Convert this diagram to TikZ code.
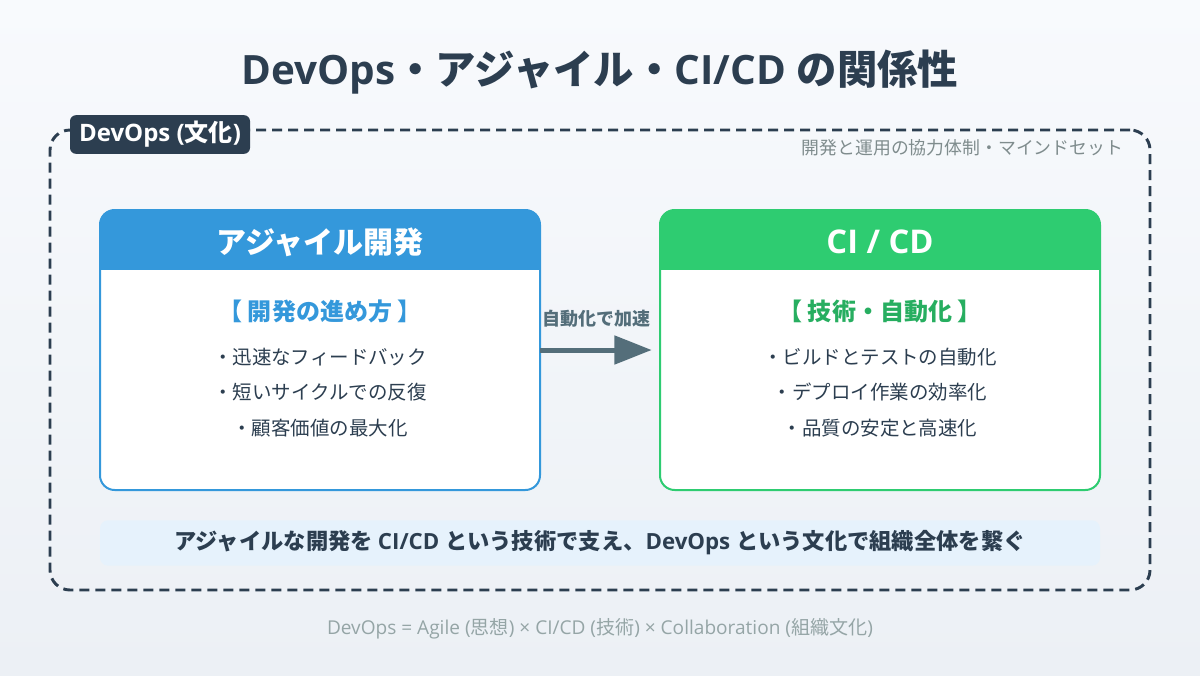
\documentclass[tikz,border=0pt]{standalone}
\usepackage{fontspec}
\setmainfont{Open Sans}
\newfontfamily\jpfont{Noto Sans CJK JP}
\XeTeXinterchartokenstate=1
\newXeTeXintercharclass\JPclass
\newcount\jpc
\def\setjprange#1#2{\jpc=#1\relax\loop\XeTeXcharclass\jpc=\JPclass\relax\ifnum\jpc<#2\relax\advance\jpc by 1\relax\repeat}
\setjprange{"3000}{"30FF}
\setjprange{"4E00}{"9FFF}
\setjprange{"FF00}{"FFEF}
\XeTeXinterchartoks 0 \JPclass = {\jpfont}
\XeTeXinterchartoks 4095 \JPclass = {\jpfont}
\XeTeXinterchartoks \JPclass 0 = {\rmfamily}
\XeTeXinterchartoks 4095 0 = {\rmfamily}
\usetikzlibrary{arrows.meta}
\definecolor{bgtop}{HTML}{F8FAFD}
\definecolor{bgbot}{HTML}{ECF0F5}
\definecolor{dark}{HTML}{2C3E50}
\definecolor{agileblue}{HTML}{3498DB}
\definecolor{cigreen}{HTML}{2ECC71}
\definecolor{cigreentext}{HTML}{27AE60}
\definecolor{arrowc}{HTML}{546E7A}
\definecolor{subgrey}{HTML}{7F8C8D}
\definecolor{footgrey}{HTML}{95A5A6}
\definecolor{bandfill}{HTML}{E6F2FC}
\tikzset{
  fs/.style={font=\fontsize{#1}{#1}\selectfont},
  bfs/.style={font=\fontsize{#1}{#1}\selectfont\bfseries},
  card/.style={rectangle, rounded corners=11pt, minimum width=330pt, minimum height=210pt, fill=white, inner sep=0pt},
  itemtxt/.style={fs=14.6pt, text=dark, anchor=center},
}
\begin{document}
\begin{tikzpicture}[x=0.75pt,y=-0.75pt]
\useasboundingbox (0,0) rectangle (1200,675);
\shade[top color=bgtop,bottom color=bgbot] (0,0) rectangle (1200,675);

% title
\node[bfs=30.3pt, text=dark] (title) at (600,72) {DevOps・アジャイル・CI/CD の関係性};

% devops dashed frame
\node[draw=dark, line width=2.2pt, dash pattern=on 7.5pt off 4.5pt, rounded corners=15pt,
      minimum width=825pt, minimum height=345pt, inner sep=0pt] (devops) at (600,360) {};
\node[fill=dark, rounded corners=4.5pt, text=white, bfs=18pt,
      minimum width=135pt, minimum height=29pt, inner sep=0pt] (devopslabel) at (160,134.5) {DevOps (文化)};
\node[fs=13.4pt, text=subgrey, anchor=east] (devopssub) at (1128,148) {開発と運用の協力体制・マインドセット};

% agile card
\node[card] (agile) at (320,350) {};
\begin{scope}
\clip[rounded corners=11pt] (100,210) rectangle (540,490);
\fill[agileblue] (100,210) rectangle (540,270);
\end{scope}
\draw[agileblue, line width=1.5pt, rounded corners=11pt] (100,210) rectangle (540,490);
\node[bfs=22.5pt, text=white] (agiletitle) at (320,242) {アジャイル開発};
\node[bfs=18pt, text=agileblue] (agilesub) at (320,311) {【 開発の進め方 】};
\node[itemtxt] (a1) at (320,357) {・迅速なフィードバック};
\node[itemtxt] (a2) at (320,392) {・短いサイクルでの反復};
\node[itemtxt] (a3) at (320,428) {・顧客価値の最大化};

% ci/cd card
\node[card] (cicd) at (880,350) {};
\begin{scope}
\clip[rounded corners=11pt] (660,210) rectangle (1100,490);
\fill[cigreen] (660,210) rectangle (1100,270);
\end{scope}
\draw[cigreen, line width=1.5pt, rounded corners=11pt] (660,210) rectangle (1100,490);
\node[bfs=24.5pt, text=white] (cititle) at (880,242) {CI / CD};
\node[bfs=18pt, text=cigreentext] (cisub) at (880,311) {【 技術・自動化 】};
\node[itemtxt] (c1) at (880,357) {・ビルドとテストの自動化};
\node[itemtxt] (c2) at (880,392) {・デプロイ作業の効率化};
\node[itemtxt] (c3) at (880,428) {・品質の安定と高速化};

% arrow
\draw[arrowc, line width=3.75pt, shorten >=6pt, -{Triangle[length=28pt,width=21pt]}] (agile.east) -- (cicd.west);
\node[bfs=13.5pt, text=arrowc] (arrowlabel) at (596,319) {自動化で加速};

% bottom band
\node[fill=bandfill, rounded corners=6pt, minimum width=750pt, minimum height=34pt, inner sep=0pt,
      bfs=16.7pt, text=dark] (band) at (600,543) {アジャイルな開発を CI/CD という技術で支え、DevOps という文化で組織全体を繋ぐ};

% footer
\node[fs=14.3pt, text=footgrey] (footer) at (600,629) {DevOps = Agile (思想) × CI/CD (技術) × Collaboration (組織文化)};
\end{tikzpicture}
\end{document}
